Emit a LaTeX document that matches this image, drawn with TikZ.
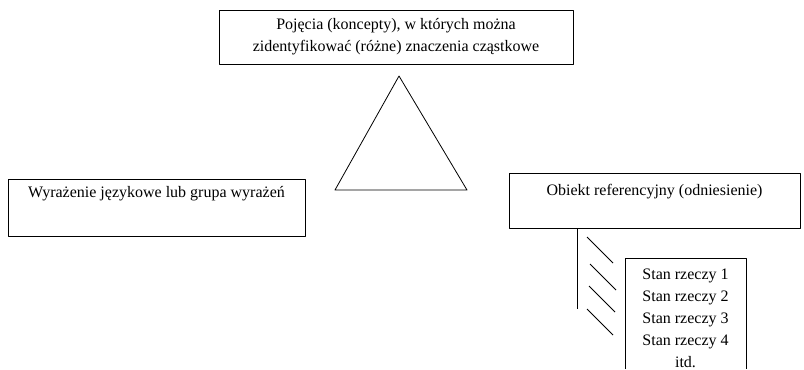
\documentclass[tikz,border=0pt]{standalone}
\usepackage{fontspec}
\setmainfont{Liberation Serif}
\begin{document}
\def\u{0.75pt}
\begin{tikzpicture}[x=\u,y=-\u,line join=round,line width=.6pt,
	font={\fontsize{12}{16.5}\selectfont},
	box/.style={draw,inner sep=0pt,align=center},
	txt/.style={anchor=base,inner sep=0pt}]
	\useasboundingbox (0,0) rectangle (804,369);
	% pojecia
	\node[box,minimum width=354*\u,minimum height=54*\u] (poj) at (396,37)
	{Pojęcia (koncepty), w których można\\zidentyfikować (różne) znaczenia cząstkowe};
	\draw (399,76)--(467,190)--(335,190)--cycle;
	% wyrazenie i obiekt
	\node[box,anchor=north,minimum width=297*\u,text height=13.5pt,text depth=29.25pt] (wyr) at (156.5,179)
	{Wyrażenie językowe lub grupa wyrażeń};
	\node[box,anchor=north,minimum width=291*\u,text height=16.5pt,text depth=24.75pt] (obj) at (654.5,173)
	{Obiekt referencyjny (odniesienie)};
	\draw (obj.south west) ++(69,0) coordinate (v) -- ++(0,80);
	\foreach \x/\y in {587/237,590/264,589/286,587/309}
	\draw (\x,\y) -- ++(26,26);
	% stany rzeczy
	\draw (625,369) |- (746,258) -- (746,369);
	\foreach \i in {1,...,4}
	\node[txt] (s\i) at (685.5,{257+22*\i}) {Stan rzeczy \i};
	\node[txt] (itd) at (685.5,367) {itd.};
\end{tikzpicture}
\end{document}
